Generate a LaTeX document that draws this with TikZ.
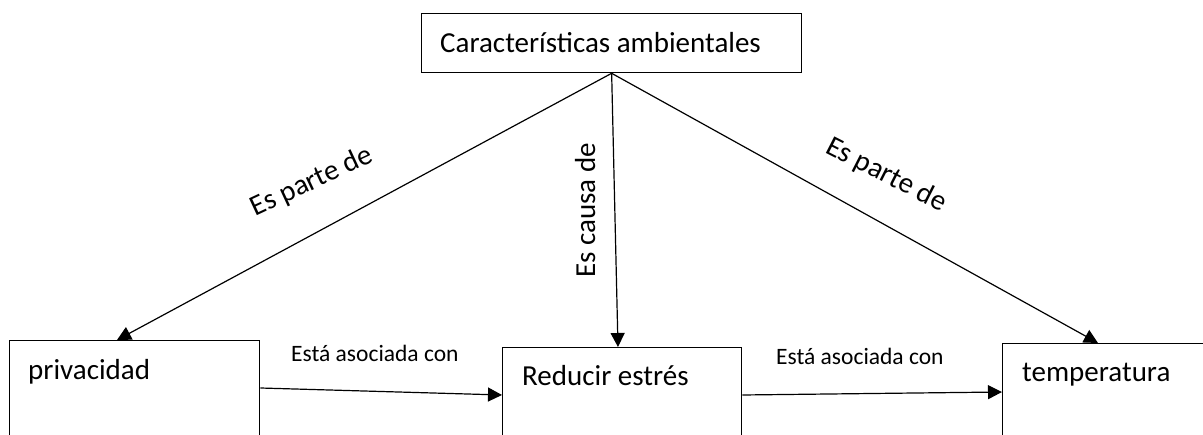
\documentclass[tikz,border=0pt]{standalone}
\usepackage{fontspec}
\setmainfont{Carlito}
\usetikzlibrary{arrows.meta}
\begin{document}
\begin{tikzpicture}[x=1pt,y=-1pt,
  box/.style={draw,line width=1.3pt,rectangle,inner sep=0pt,anchor=north west},
  lbl/.style={inner sep=0pt,anchor=base west,font=\fontsize{29}{34}\selectfont},
  small/.style={inner sep=0pt,anchor=base west,font=\fontsize{23.5}{28}\selectfont},
  conn/.style={line width=1.2pt,-{Triangle[length=14pt,width=14pt]}}]
\clip (0,0) rectangle (1203,435);
\fill[white] (0,0) rectangle (1203,435);
% boxes
\node[box,minimum width=380pt,minimum height=59pt] (top) at (421,13) {};
\node[box,minimum width=250pt,minimum height=120pt] (priv) at (9,340) {};
\node[box,minimum width=239pt,minimum height=120pt] (red) at (502,347) {};
\node[box,minimum width=230pt,minimum height=120pt] (temp) at (1002,343) {};
% box texts
\node[lbl] (ttop) at (440,53) {Características ambientales};
\node[lbl] (tpriv) at (28,380) {privacidad};
\node[lbl] (tred) at (522,386) {Reducir estrés};
\node[lbl] (ttemp) at (1022,382) {temperatura};
% connectors
\draw[conn] (top.south) -- ([xshift=108pt]priv.north west);
\draw[conn] (top.south) -- ([xshift=116pt]red.north west);
\draw[conn] (top.south) -- ([xshift=96pt]temp.north west);
\draw[conn] ([yshift=-48pt]priv.north east) -- ([yshift=-48pt]red.north west);
\draw[conn] ([yshift=-48pt]red.north east) -- ([yshift=-49pt]temp.north west);
% connector labels
\node[lbl,rotate=25] (l1) at (255,217) {Es parte de};
\node[lbl,rotate=90] (l2) at (595,278) {Es causa de};
\node[lbl,rotate=-27] (l3) at (824,152) {Es parte de};
\node[small] (l4) at (291,362) {Está asociada con};
\node[small] (l5) at (776,365) {Está asociada con};
\end{tikzpicture}
\end{document}
